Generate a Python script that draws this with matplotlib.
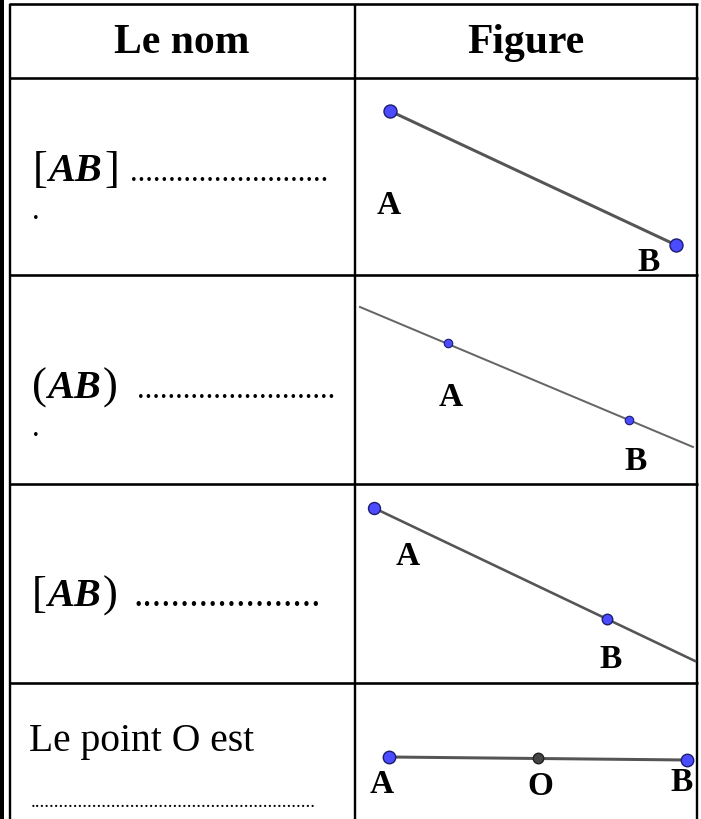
import matplotlib.pyplot as plt

# table layout (pixel coordinates of the picture, y downwards)
W, H = 701, 820
col_x = [9, 355, 697]
row_y = [5, 79, 276, 485, 684]

headers = ["Le nom", "Figure"]

# figure 1 : segment [AB]
seg_pts_x = [390, 676]
seg_pts_y = [112, 246]
# figure 2 : line (AB)
line_end_x = [360, 693]
line_end_y = [308, 448]
line_pts_x = [448, 629]
line_pts_y = [344, 421]
# figure 3 : ray [AB)
ray_end_x = [374, 695]
ray_end_y = [509, 662]
ray_pts_x = [374, 607]
ray_pts_y = [509, 620]
# figure 4 : O middle of [AB]
mid_pts_x = [389, 538, 687]
mid_pts_y = [758, 759, 761]

# point labels (name, x, y)
labels = [
    ("A", 389, 205), ("B", 649, 263),
    ("A", 451, 398), ("B", 636, 462),
    ("A", 408, 557), ("B", 611, 660),
    ("A", 382, 785), ("O", 540, 787), ("B", 682, 783),
]

PT = 0.72  # px -> points at dpi 100
blue = "#4b4bff"
edge = "#1c1c70"
grey = "#555555"

fig = plt.figure(figsize=(W / 100, H / 100), dpi=100)
ax = fig.add_axes([0, 0, 1, 1])
ax.set_xlim(0, W)
ax.set_ylim(H, 0)
ax.axis("off")

# borders
ax.plot([2, 2], [0, H], color="black", lw=4 * PT, solid_capstyle="butt")
ax.plot([9.5, 9.5], [5, H], color="black", lw=2.4 * PT, solid_capstyle="butt")
for x in col_x[1:]:
    ax.plot([x, x], [row_y[0], H], color="black", lw=2.4 * PT, solid_capstyle="butt")
for y in row_y:
    ax.plot([col_x[0], col_x[-1] + 1], [y, y], color="black", lw=2.6 * PT, solid_capstyle="butt")

serif = "Liberation Serif"

# header
for i, h in enumerate(headers):
    ax.text((col_x[i] + col_x[i + 1]) / 2, 43, h, fontsize=30, fontweight="bold",
            family=serif, ha="center", va="center")


def name_cell(x0, base, left, right, dots_from, ndots, dot_size=22):
    ax.text(x0, base + 1, left, fontsize=32, family=serif, ha="left", va="baseline")
    ax.text(x0 + 15, base, "AB", fontsize=29, family=serif, fontweight="bold",
            style="italic", ha="left", va="baseline")
    ax.text(x0 + 71, base + 1, right, fontsize=32, family=serif, ha="left", va="baseline")
    ax.text(dots_from, base, "." * ndots, fontsize=dot_size, family=serif,
            ha="left", va="baseline")


name_cell(33, 181, "[", "]", 130, 26)
ax.text(32, 219, ".", fontsize=22, family=serif, ha="left", va="baseline")
name_cell(32, 398, "(", ")", 137, 26)
ax.text(32, 436, ".", fontsize=22, family=serif, ha="left", va="baseline")
name_cell(32, 606, "[", ")", 133, 20, dot_size=27)

ax.text(29, 751, "Le point O est", fontsize=28.5, family=serif, ha="left", va="baseline")
ax.text(31, 807, "." * 60, fontsize=14, family=serif, ha="left", va="baseline")

# figures
ax.plot(seg_pts_x, seg_pts_y, color=grey, lw=3 * PT, zorder=2)
ax.plot(seg_pts_x, seg_pts_y, "o", ms=13 * PT, mfc=blue, mec=edge, mew=1, zorder=3)

ax.plot(line_end_x, line_end_y, color="#666666", lw=2 * PT, zorder=2)
ax.plot(line_pts_x, line_pts_y, "o", ms=8.5 * PT, mfc=blue, mec=edge, mew=0.8, zorder=3)

ax.plot(ray_end_x, ray_end_y, color=grey, lw=2.6 * PT, zorder=2)
ax.plot(ray_pts_x[:1], ray_pts_y[:1], "o", ms=12 * PT, mfc=blue, mec=edge, mew=1, zorder=3)
ax.plot(ray_pts_x[1:], ray_pts_y[1:], "o", ms=10.5 * PT, mfc=blue, mec=edge, mew=1, zorder=3)

ax.plot([mid_pts_x[0], mid_pts_x[-1]], [mid_pts_y[0], mid_pts_y[-1]], color=grey,
        lw=3 * PT, zorder=2)
ax.plot([mid_pts_x[0], mid_pts_x[2]], [mid_pts_y[0], mid_pts_y[2]], "o", ms=12.5 * PT,
        mfc=blue, mec=edge, mew=1, zorder=3)
ax.plot(mid_pts_x[1], mid_pts_y[1], "o", ms=10.5 * PT, mfc="#444444", mec="#222222",
        mew=1, zorder=3)

for name, x, y in labels:
    ax.text(x, y, name, fontsize=24, fontweight="bold", family=serif,
            ha="center", va="center", zorder=4)

fig.savefig("out.png", dpi=100)
